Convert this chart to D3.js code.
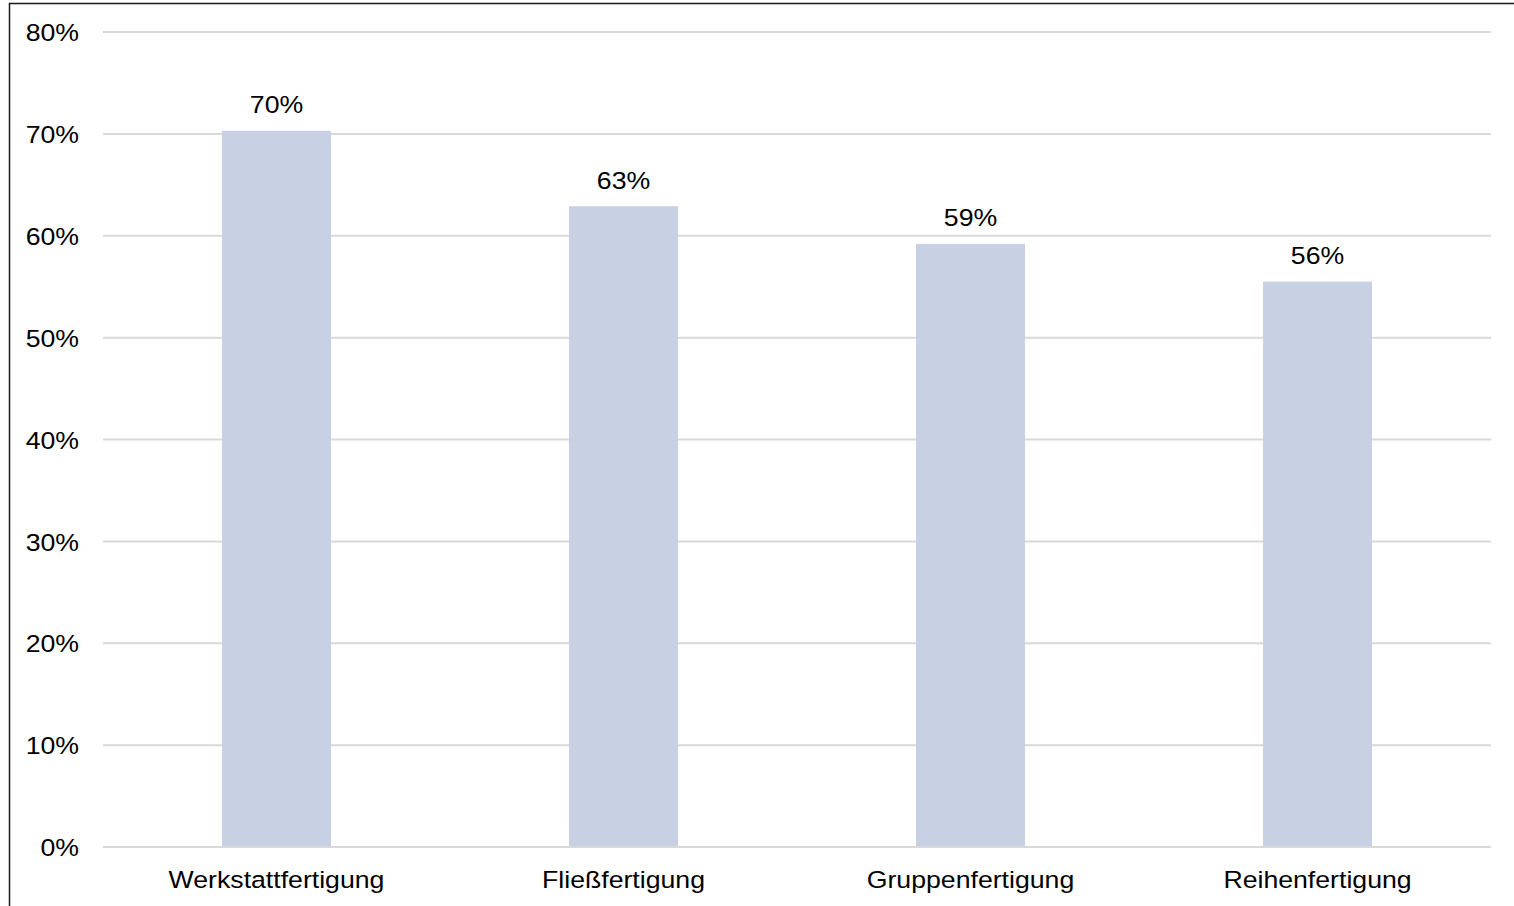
<!DOCTYPE html>
<html><head><meta charset="utf-8">
<script src="https://cdn.jsdelivr.net/npm/d3@7"></script>
<style>html,body{margin:0;padding:0;background:#fff;overflow:hidden}</style>
</head><body>
<svg id="c" width="1514" height="906"></svg>
<script>
const categories = ["Werkstattfertigung", "Fließfertigung", "Gruppenfertigung", "Reihenfertigung"];
const values = [70.3, 62.9, 59.2, 55.5];
const valueLabels = ["70%", "63%", "59%", "56%"];
const yTicks = [0, 10, 20, 30, 40, 50, 60, 70, 80];

(function () {
const svg = d3.select("#c");
const mLeft = 103, mRight = 1491, mTop = 32, mBottom = 847;
const font = "Arial, 'Liberation Sans', sans-serif";
const sx = 1.135;

svg.append("rect").attr("x", 9.5).attr("y", 3.5).attr("width", 1520).attr("height", 920)
  .attr("fill", "#fff").attr("stroke", "#1a1a1a").attr("stroke-width", 1.5);

const x = d3.scaleBand().domain(categories).range([mLeft, mRight]).paddingInner(0.686).paddingOuter(0.343);
const y = d3.scaleLinear().domain([0, 80]).range([mBottom, mTop]);

const g = svg.append("g");
g.selectAll("line.grid").data(yTicks).join("line")
  .attr("x1", mLeft).attr("x2", mRight)
  .attr("y1", d => y(d)).attr("y2", d => y(d))
  .attr("stroke", "#d9d9d9").attr("stroke-width", 2);

g.selectAll("text.yl").data(yTicks).join("text")
  .attr("transform", d => `translate(79,${y(d) + 1}) scale(${sx},1)`)
  .attr("text-anchor", "end").attr("dy", "0.35em")
  .attr("font-family", font).attr("font-size", 23.5).attr("fill", "#000")
  .text(d => d + "%");

g.selectAll("rect.bar").data(values).join("rect")
  .attr("x", (d, i) => x(categories[i])).attr("width", x.bandwidth())
  .attr("y", d => y(d)).attr("height", d => y(0) - y(d))
  .attr("fill", "#c8d1e3");

g.append("line").attr("x1", mLeft).attr("x2", mRight).attr("y1", y(0)).attr("y2", y(0))
  .attr("stroke", "#d9d9d9").attr("stroke-width", 2);

g.selectAll("text.vl").data(values).join("text")
  .attr("transform", (d, i) => `translate(${x(categories[i]) + x.bandwidth() / 2},${y(d) - 17.5}) scale(${sx},1)`)
  .attr("text-anchor", "middle")
  .attr("font-family", font).attr("font-size", 23.5).attr("fill", "#000")
  .text((d, i) => valueLabels[i]);

g.selectAll("text.xl").data(categories).join("text")
  .attr("transform", d => `translate(${x(d) + x.bandwidth() / 2},887.5) scale(${sx},1)`)
  .attr("text-anchor", "middle")
  .attr("font-family", font).attr("font-size", 23.5).attr("fill", "#000")
  .text(d => d);
})();
</script>
</body></html>
